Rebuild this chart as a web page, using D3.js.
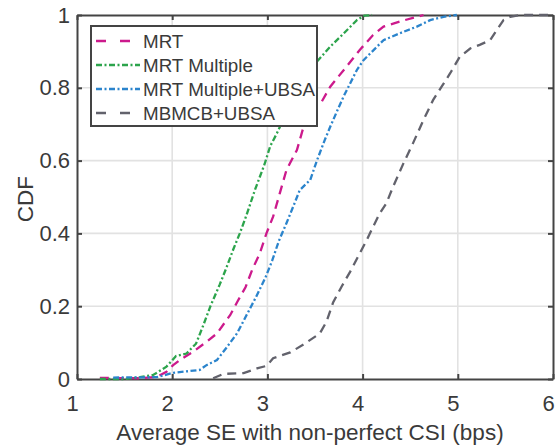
<!DOCTYPE html>
<html>
<head>
<meta charset="utf-8">
<script src="https://cdn.jsdelivr.net/npm/d3@7"></script>
<style>
  body { margin: 0; background: #fff; }
  text { font-family: "Liberation Sans", Arial, Helvetica, sans-serif; fill: #3a3a3a; }
</style>
</head>
<body>
<div id="chart"></div>
<script>
// series names, in legend order
var names = ["MRT", "MRT Multiple", "MRT Multiple+UBSA", "MBMCB+UBSA"];

// MRT
var mrtX = [1.24, 1.66, 1.84, 1.94, 2.01, 2.08, 2.22, 2.36, 2.47, 2.61, 2.69, 2.77, 2.84, 2.92, 2.99, 3.06, 3.13, 3.20, 3.31, 3.38, 3.48, 3.56, 3.66, 3.83, 3.97, 4.11, 4.22, 4.43, 4.64];
var mrtY = [0.003, 0.002, 0.006, 0.02, 0.038, 0.052, 0.075, 0.102, 0.125, 0.176, 0.215, 0.252, 0.30, 0.345, 0.40, 0.446, 0.51, 0.574, 0.629, 0.693, 0.748, 0.757, 0.803, 0.858, 0.904, 0.945, 0.968, 0.985, 1.0];

// MRT Multiple
var multX = [1.24, 1.5, 1.66, 1.80, 1.94, 2.04, 2.15, 2.25, 2.32, 2.40, 2.50, 2.57, 2.64, 2.71, 2.78, 2.87, 2.97, 3.03, 3.10, 3.18, 3.28, 3.40, 3.52, 3.66, 3.80, 3.94, 4.02, 4.10];
var multY = [0, 0, 0.005, 0.011, 0.034, 0.063, 0.07, 0.097, 0.143, 0.199, 0.26, 0.306, 0.355, 0.40, 0.45, 0.52, 0.59, 0.64, 0.675, 0.72, 0.77, 0.825, 0.872, 0.913, 0.949, 0.986, 0.998, 1.0];

// MRT Multiple+UBSA
var ubsaX = [1.38, 1.84, 2.01, 2.19, 2.29, 2.36, 2.47, 2.57, 2.68, 2.78, 2.88, 2.98, 3.05, 3.12, 3.20, 3.27, 3.34, 3.45, 3.52, 3.60, 3.66, 3.73, 3.80, 3.94, 4.01, 4.22, 4.43, 4.57, 4.71, 4.85, 4.99];
var ubsaY = [0.004, 0.005, 0.017, 0.022, 0.025, 0.038, 0.052, 0.086, 0.125, 0.175, 0.225, 0.279, 0.325, 0.379, 0.428, 0.473, 0.519, 0.547, 0.60, 0.655, 0.693, 0.735, 0.776, 0.849, 0.876, 0.931, 0.954, 0.968, 0.986, 0.995, 1.0];

// MBMCB+UBSA
var mbmcbX = [2.43, 2.54, 2.75, 2.89, 2.99, 3.06, 3.24, 3.38, 3.55, 3.62, 3.69, 3.78, 3.87, 3.97, 4.04, 4.11, 4.18, 4.25, 4.32, 4.43, 4.53, 4.64, 4.74, 4.83, 4.92, 5.02, 5.13, 5.23, 5.34, 5.41, 5.48, 5.55, 5.65, 5.95];
var mbmcbY = [0.002, 0.014, 0.016, 0.029, 0.036, 0.057, 0.073, 0.095, 0.125, 0.157, 0.21, 0.254, 0.295, 0.345, 0.38, 0.418, 0.455, 0.483, 0.528, 0.593, 0.648, 0.712, 0.766, 0.803, 0.84, 0.885, 0.908, 0.918, 0.931, 0.959, 0.986, 0.995, 1.0, 1.0];

var xTicks = [1, 2, 3, 4, 5, 6];
var yTicks = [0, 0.2, 0.4, 0.6, 0.8, 1];

var colors = ["#cc1a8c", "#2ca44c", "#2b84cc", "#62626c"];
var dashes = ["9,6", "6,2.5,2,2.5", "6,2.5,2,2.5", "9,6"];

var series = [
  { xs: mrtX, ys: mrtY },
  { xs: multX, ys: multY },
  { xs: ubsaX, ys: ubsaY },
  { xs: mbmcbX, ys: mbmcbY }
];

const W = 555, H = 447;
const plot = { left: 77, right: 553, top: 15, bottom: 379 };

const svg = d3.select("#chart").append("svg")
  .attr("width", W)
  .attr("height", H);

const x = d3.scaleLinear().domain([1, 6]).range([plot.left, plot.right]);
const y = d3.scaleLinear().domain([0, 1]).range([plot.bottom, plot.top]);

// grid
svg.append("g").selectAll("line.gx")
  .data(xTicks.slice(1, -1))
  .enter().append("line")
  .attr("x1", d => x(d)).attr("x2", d => x(d))
  .attr("y1", plot.top).attr("y2", plot.bottom)
  .attr("stroke", "#e2e2e2").attr("stroke-width", 1.6);

svg.append("g").selectAll("line.gy")
  .data(yTicks.slice(1, -1))
  .enter().append("line")
  .attr("x1", plot.left).attr("x2", plot.right)
  .attr("y1", d => y(d)).attr("y2", d => y(d))
  .attr("stroke", "#e2e2e2").attr("stroke-width", 1.6);

// axes with inward ticks on all four sides
const axisColor = "#444";
const fmt = d => d3.format("")(d);

const bottomAxis = svg.append("g")
  .attr("transform", `translate(0,${plot.bottom})`)
  .call(d3.axisBottom(x).tickValues(xTicks).tickSizeInner(-5).tickSizeOuter(0).tickPadding(16).tickFormat(fmt));
const topAxis = svg.append("g")
  .attr("transform", `translate(0,${plot.top})`)
  .call(d3.axisTop(x).tickValues(xTicks).tickSizeInner(-5).tickSizeOuter(0).tickFormat(""));
const leftAxis = svg.append("g")
  .attr("transform", `translate(${plot.left},0)`)
  .call(d3.axisLeft(y).tickValues(yTicks).tickSizeInner(-5).tickSizeOuter(0).tickPadding(7).tickFormat(fmt));
const rightAxis = svg.append("g")
  .attr("transform", `translate(${plot.right},0)`)
  .call(d3.axisRight(y).tickValues(yTicks).tickSizeInner(-5).tickSizeOuter(0).tickFormat(""));

[bottomAxis, topAxis, leftAxis, rightAxis].forEach(g => {
  g.select(".domain").attr("stroke", axisColor).attr("stroke-width", 2);
  g.selectAll(".tick line").attr("stroke", axisColor).attr("stroke-width", 2);
  g.selectAll(".tick text")
    .attr("fill", "#3a3a3a")
    .style("font-size", "22px")
    .style("font-family", "'Liberation Sans', Arial, sans-serif");
});
bottomAxis.selectAll(".tick text").attr("dx", "-5px");

// curves
const line = d3.line()
  .x(d => x(d[0]))
  .y(d => y(d[1]));

series.forEach((s, i) => {
  const pts = s.xs.map((v, k) => [v, s.ys[k]]);
  svg.append("path")
    .datum(pts)
    .attr("fill", "none")
    .attr("stroke", colors[i])
    .attr("stroke-width", 2.3)
    .attr("stroke-dasharray", dashes[i])
    .attr("d", line);
});

// axis labels
svg.append("text")
  .attr("x", (plot.left + plot.right) / 2 - 5)
  .attr("y", 440)
  .attr("text-anchor", "middle")
  .style("font-size", "22.5px")
  .text("Average SE with non-perfect CSI (bps)");

svg.append("text")
  .attr("transform", `translate(33,${(plot.top + plot.bottom) / 2 + 2}) rotate(-90)`)
  .attr("text-anchor", "middle")
  .style("font-size", "22.5px")
  .text("CDF");

// legend
const leg = { x: 91, y: 26, w: 226, h: 100 };
const legend = svg.append("g");
legend.append("rect")
  .attr("x", leg.x).attr("y", leg.y)
  .attr("width", leg.w).attr("height", leg.h)
  .attr("fill", "#fff")
  .attr("stroke", axisColor)
  .attr("stroke-width", 2);

const rowY = d3.scalePoint().domain(names).range([41, 113]);

names.forEach((n, i) => {
  legend.append("line")
    .attr("x1", 96).attr("x2", 140)
    .attr("y1", rowY(n)).attr("y2", rowY(n))
    .attr("stroke", colors[i])
    .attr("stroke-width", 2.3)
    .attr("stroke-dasharray", i === 0 || i === 3 ? "10,14" : dashes[i]);
  legend.append("text")
    .attr("x", 143)
    .attr("y", rowY(n))
    .attr("dy", "0.35em")
    .style("font-size", "18.8px")
    .text(n);
});
</script>
</body>
</html>
